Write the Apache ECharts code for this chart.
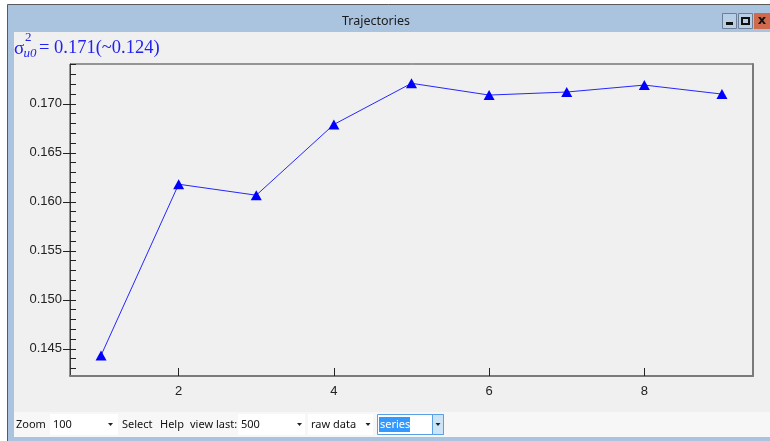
<!DOCTYPE html>
<html>
<head>
<meta charset="utf-8">
<script src="https://cdn.jsdelivr.net/npm/echarts@6/dist/echarts.min.js"></script>
<style>
html,body{margin:0;padding:0;background:#fff;}
#c{width:770px;height:441px;}
</style>
</head>
<body>
<div id="c"></div>
<script>
const iterations = [1, 2, 3, 4, 5, 6, 7, 8, 9];
const sigmaValues = [0.14432, 0.16179, 0.16067, 0.16789, 0.17209, 0.17089, 0.17120, 0.17191, 0.17099];
const xTickLabels = [2, 4, 6, 8];
const yTickLabels = [0.145, 0.150, 0.155, 0.160, 0.165, 0.170];
const yMinorTicks = [0.143, 0.144, 0.145, 0.146, 0.147, 0.148, 0.149, 0.150, 0.151, 0.152,
  0.153, 0.154, 0.155, 0.156, 0.157, 0.158, 0.159, 0.160, 0.161, 0.162, 0.163, 0.164,
  0.165, 0.166, 0.167, 0.168, 0.169, 0.170, 0.171, 0.172, 0.173, 0.174];
const windowTitle = 'Trajectories';
const estimateText = '= 0.171(~0.124)';

const chart = echarts.init(document.getElementById('c'), null, {renderer: 'canvas'});

const BLUE_FRAME = '#aac4df';
const TB_FONT = '11px "Noto Sans", "Open Sans", sans-serif';

function arrow(x, y) {
  return {type: 'polygon', shape: {points: [[x - 2.5, y - 1.5], [x + 2.5, y - 1.5], [x, y + 1.5]]},
    style: {fill: '#222'}};
}
function tbText(text, x, y, color) {
  return {type: 'text', style: {text: text, x: x, y: y, font: TB_FONT, fill: color || '#111',
    textVerticalAlign: 'middle'}};
}
function tbBox(x, w) {
  return {type: 'rect', shape: {x: x, y: 414, width: w, height: 21}, style: {fill: '#ffffff'}};
}

const graphics = [
  {type: 'rect', shape: {x: 0, y: 0, width: 770, height: 4}, style: {fill: '#ffffff'}},
  {type: 'rect', shape: {x: 0, y: 0, width: 7, height: 441}, style: {fill: '#ffffff'}},
  {type: 'rect', shape: {x: 8, y: 5, width: 762, height: 27}, style: {fill: BLUE_FRAME}},
  {type: 'rect', shape: {x: 8, y: 32, width: 6, height: 409}, style: {fill: BLUE_FRAME}},
  {type: 'rect', shape: {x: 8, y: 437, width: 762, height: 4}, style: {fill: BLUE_FRAME}},
  {type: 'line', shape: {x1: 7.5, y1: 4.5, x2: 770, y2: 4.5}, style: {stroke: '#5a5a5a', lineWidth: 1}},
  {type: 'line', shape: {x1: 7.5, y1: 4.5, x2: 7.5, y2: 441}, style: {stroke: '#5a5a5a', lineWidth: 1}},
  {type: 'rect', shape: {x: 14, y: 412, width: 756, height: 25}, style: {fill: '#f7f7f7'}},
  // title
  {type: 'text', style: {text: windowTitle, x: 376, y: 21.5, font: '12.5px "Noto Sans", "Open Sans", sans-serif',
    fill: '#1a1a1a', textAlign: 'center', textVerticalAlign: 'middle'}},
  // window buttons
  {type: 'rect', shape: {x: 722.5, y: 13.5, width: 14, height: 15}, style: {fill: '#b9cfe6', stroke: '#6d7f96', lineWidth: 1}},
  {type: 'rect', shape: {x: 726, y: 22, width: 7, height: 3}, style: {fill: '#111'}},
  {type: 'rect', shape: {x: 738.5, y: 13.5, width: 14, height: 15}, style: {fill: '#b9cfe6', stroke: '#6d7f96', lineWidth: 1}},
  {type: 'rect', shape: {x: 742, y: 18, width: 7, height: 6}, style: {fill: 'none', stroke: '#111', lineWidth: 2}},
  {type: 'rect', shape: {x: 754, y: 13, width: 16, height: 16}, style: {fill: '#cf6a4c'}},
  {type: 'text', style: {text: 'x', x: 762, y: 20.5, font: 'bold 13px "DejaVu Sans", sans-serif', fill: '#111',
    textAlign: 'center', textVerticalAlign: 'middle'}},
  // estimate label
  {type: 'text', style: {text: 'σ', x: 14, y: 49, font: '19px "Liberation Serif", serif', fill: '#2121f0',
    textVerticalAlign: 'middle'}},
  {type: 'text', style: {text: '2', x: 25, y: 37.5, font: '13px "Liberation Serif", serif', fill: '#2121f0',
    textVerticalAlign: 'middle'}},
  {type: 'text', style: {text: 'u0', x: 23.5, y: 53.5, font: 'italic 13px "Liberation Serif", serif', fill: '#2121f0',
    textVerticalAlign: 'middle'}},
  {type: 'text', style: {text: estimateText, x: 39, y: 48.5, font: '18.5px "Liberation Serif", serif', fill: '#2121f0',
    textVerticalAlign: 'middle'}},
  // toolbar
  tbText('Zoom', 16, 424.5),
  tbBox(50, 68), tbText('100', 53, 424.5), arrow(110.5, 424.5),
  tbText('Select', 122, 424.5),
  tbText('Help', 160, 424.5),
  tbText('view last:', 190, 424.5),
  tbBox(238, 67), tbText('500', 241, 424.5), arrow(299.5, 424.5),
  tbBox(308, 65), tbText('raw data', 311, 424.5), arrow(368, 424.5),
  {type: 'rect', shape: {x: 377.5, y: 414.5, width: 66, height: 20}, style: {fill: '#ffffff', stroke: '#5aa0e6', lineWidth: 1}},
  {type: 'rect', shape: {x: 379, y: 417, width: 31, height: 15}, style: {fill: '#3399ff'}},
  tbText('series', 380, 424.5, '#ffffff'),
  {type: 'rect', shape: {x: 432.5, y: 414.5, width: 11, height: 20}, style: {fill: '#cce4f7', stroke: '#5aa0e6', lineWidth: 1}},
  arrow(438, 424.5)
];

chart.setOption({
  backgroundColor: '#f0f0f0',
  animation: false,
  graphic: graphics,
  grid: {left: 70, right: 17, top: 64, bottom: 65, show: true, backgroundColor: '#f0f0f0',
    borderColor: '#3a3a3a', borderWidth: 1},
  xAxis: [{
    type: 'value', min: 0.6, max: 9.4, position: 'bottom',
    axisLine: {show: true, onZero: false, lineStyle: {color: '#7a7a7a', width: 2}},
    axisTick: {show: true, inside: true, length: 8, customValues: xTickLabels, lineStyle: {color: '#222', width: 1}},
    axisLabel: {show: true, customValues: xTickLabels, color: '#222', fontSize: 13, margin: 9,
      fontFamily: '"Liberation Sans", Arial, sans-serif'},
    splitLine: {show: false}
  }],
  yAxis: [{
    type: 'value', min: 0.14222, max: 0.17406, position: 'left',
    axisLine: {show: true, onZero: false, lineStyle: {color: '#3a3a3a', width: 1}},
    axisTick: {show: true, inside: false, length: 7, customValues: yTickLabels, lineStyle: {color: '#222', width: 1}},
    axisLabel: {show: true, customValues: yTickLabels, formatter: v => v.toFixed(3), color: '#222', fontSize: 13,
      margin: 8, fontFamily: '"Liberation Sans", Arial, sans-serif'},
    splitLine: {show: false}
  }, {
    type: 'value', min: 0.14222, max: 0.17406, position: 'left',
    axisLine: {show: false},
    axisTick: {show: true, inside: true, length: 6, customValues: yMinorTicks, lineStyle: {color: '#222', width: 1}},
    axisLabel: {show: false},
    splitLine: {show: false}
  }, {
    type: 'value', min: 0.14222, max: 0.17406, position: 'right',
    axisLine: {show: true, onZero: false, lineStyle: {color: '#7a7a7a', width: 2}},
    axisTick: {show: false}, axisLabel: {show: false}, splitLine: {show: false}
  }],
  series: [{
    type: 'line',
    xAxisIndex: 0, yAxisIndex: 0,
    data: iterations.map((it, i) => [it, sigmaValues[i]]),
    symbol: 'triangle', symbolSize: [11, 10], showSymbol: true,
    lineStyle: {color: '#2626ff', width: 1},
    itemStyle: {color: '#0000ff', borderWidth: 0},
    silent: true
  }]
});
</script>
</body>
</html>
